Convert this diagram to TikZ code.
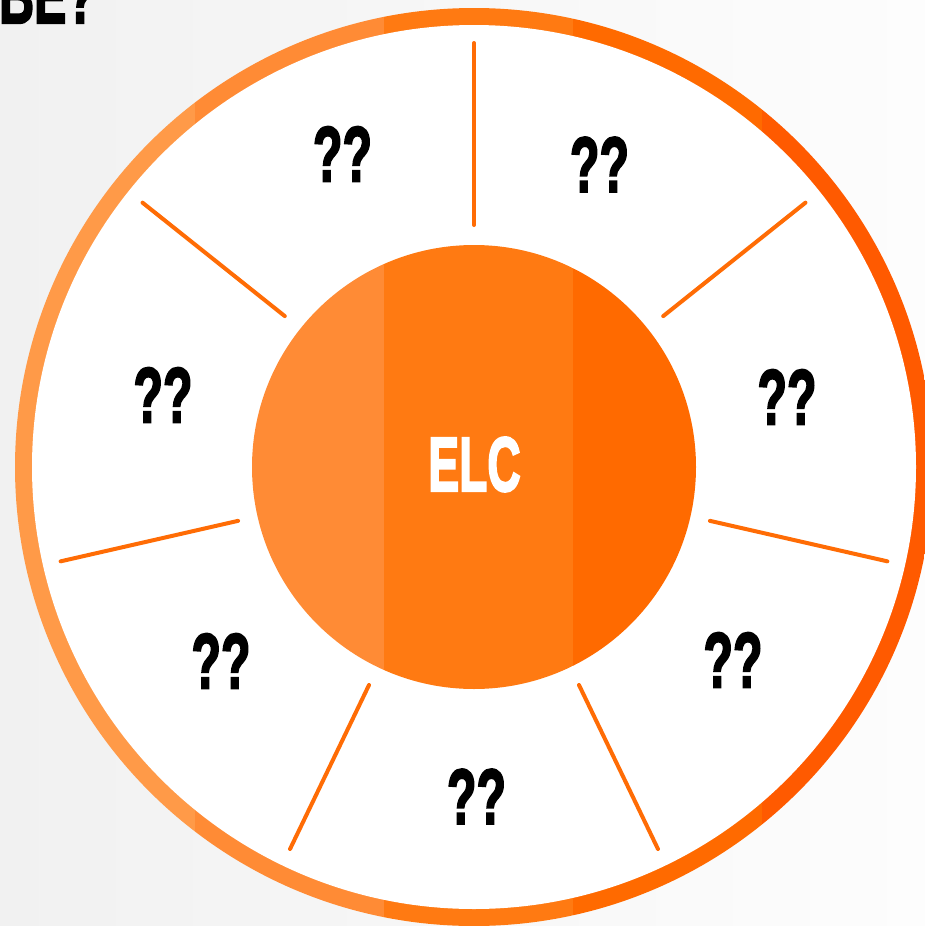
\documentclass[tikz,border=0pt]{standalone}
\usepackage{fontspec}
\setmainfont{Liberation Sans}
\newfontfamily\heavy{Liberation Sans}[BoldFeatures={FakeBold=3}]
\usepackage{graphicx}
\definecolor{bgL}{HTML}{F1F1F1}
\definecolor{bgR}{HTML}{FDFDFD}
\definecolor{s1}{HTML}{FF9A48}
\definecolor{s2}{HTML}{FF8B35}
\definecolor{s3}{HTML}{FF7A12}
\definecolor{s4}{HTML}{FF6A00}
\definecolor{s5}{HTML}{FF5A00}
\definecolor{spoke}{HTML}{FF6C05}
\begin{document}
\begin{tikzpicture}[x=1pt,y=-1pt,
  spokeline/.style={draw=spoke,line width=4pt,line cap=round},
  qq/.style={inner sep=0pt,font=\fontsize{78}{78}\heavy\bfseries,text=black},
  elc/.style={inner sep=0pt,font=\fontsize{77}{77}\heavy\bfseries,text=white}]
\useasboundingbox (0,0) rectangle (925,926);
\shade[left color=bgL,right color=bgR] (0,0) rectangle (925,926);
\coordinate (c) at (474,467);
% outer ring with vertical stripes
\begin{scope}
  \clip (c) circle[radius=459];
  \fill[s1] (-20,-20) rectangle (195,950);
  \fill[s2] (195,-20) rectangle (384,950);
  \fill[s3] (384,-20) rectangle (573,950);
  \fill[s4] (573,-20) rectangle (762,950);
  \fill[s5] (762,-20) rectangle (950,950);
\end{scope}
\fill[white] (c) circle[radius=442];
% inner circle with vertical stripes
\begin{scope}
  \clip (c) circle[radius=222];
  \fill[s2] (240,200) rectangle (384,700);
  \fill[s3] (384,200) rectangle (573,700);
  \fill[s4] (573,200) rectangle (710,700);
\end{scope}
% spokes
\foreach \a [count=\i] in {90,38.571,-12.857,-64.286,141.429,192.857,244.286} {
  \coordinate (si\i) at ([shift={(-\a:242)}]c);
  \coordinate (so\i) at ([shift={(-\a:424)}]c);
  \draw[spokeline] (si\i) -- (so\i);
}
% labels
\node[elc] (elc) at (474.5,464.5) {\scalebox{0.6}[1]{ELC}};
\node[qq] (q1) at (342.5,154) {\scalebox{0.62}[1]{??}};
\node[qq] (q2) at (599.5,164.5) {\scalebox{0.62}[1]{??}};
\node[qq] (q3) at (787,397) {\scalebox{0.62}[1]{??}};
\node[qq] (q4) at (733,660) {\scalebox{0.62}[1]{??}};
\node[qq] (q5) at (476.5,796.5) {\scalebox{0.62}[1]{??}};
\node[qq] (q6) at (221,661) {\scalebox{0.62}[1]{??}};
\node[qq] (q7) at (163,395) {\scalebox{0.62}[1]{??}};
\node[qq,anchor=base west] (head) at (-1,23) {\scalebox{0.62}[1]{BE?}};
\end{tikzpicture}
\end{document}
